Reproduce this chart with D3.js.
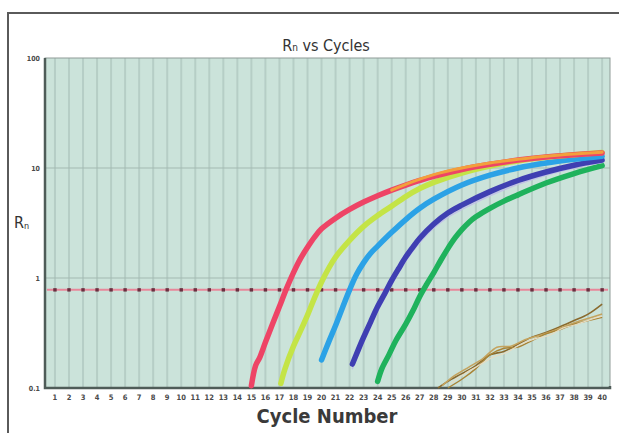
<!DOCTYPE html>
<html>
<head>
<meta charset="utf-8">
<script src="https://cdn.jsdelivr.net/npm/d3@7"></script>
<style>
  html, body { margin: 0; padding: 0; background: #ffffff; }
  svg { display: block; }
  text { font-family: "Liberation Sans Narrow", "DejaVu Sans Condensed", "Liberation Sans", sans-serif; }
</style>
</head>
<body>
<svg id="chart" width="619" height="433"></svg>
<script>
// Amplification plot: normalized reporter (Rn) against PCR cycle, log scale.
const cycleTicks = d3.range(1, 41);
const yTicks = [0.1, 1, 10, 100];
const yTickLabels = ["0.1", "1", "10", "100"];
const threshold = 0.78;

const redCycles = [15.0, 15.3, 15.6, 16, 16.5, 17, 17.5, 18, 18.5, 19, 19.5, 20, 21, 22, 23, 24, 25, 26, 27, 28, 30, 32, 34, 36, 38, 40];
const redValues = [0.105, 0.16, 0.19, 0.26, 0.38, 0.55, 0.8, 1.12, 1.5, 1.9, 2.35, 2.8, 3.5, 4.2, 4.9, 5.6, 6.3, 7.0, 7.7, 8.4, 9.7, 10.8, 11.8, 12.6, 13.2, 13.7];

const orangeCycles = [25, 26, 28, 30, 32, 34, 36, 38, 40];
const orangeValues = [6.3, 7.1, 8.7, 10.0, 11.1, 12.0, 12.8, 13.4, 13.9];

const yellowCycles = [17.1, 17.4, 18, 18.5, 19, 19.5, 20, 20.5, 21, 22, 23, 24, 25, 26, 27, 28, 30, 32, 34, 36, 38, 40];
const yellowValues = [0.11, 0.15, 0.24, 0.33, 0.46, 0.66, 0.92, 1.22, 1.55, 2.2, 2.95, 3.7, 4.5, 5.5, 6.5, 7.4, 9.0, 10.4, 11.6, 12.5, 13.2, 13.8];

const cyanCycles = [20.0, 20.5, 21, 21.5, 22, 22.5, 23, 23.5, 24, 25, 26, 27, 28, 30, 32, 34, 36, 38, 40];
const cyanValues = [0.18, 0.26, 0.37, 0.54, 0.78, 1.08, 1.38, 1.68, 1.95, 2.6, 3.4, 4.3, 5.2, 7.0, 8.6, 10.0, 11.1, 12.0, 12.8];

const navyCycles = [22.2, 22.6, 23, 23.5, 24, 24.5, 25, 25.5, 26, 26.5, 27, 28, 29, 30, 32, 34, 36, 38, 40];
const navyValues = [0.165, 0.22, 0.29, 0.4, 0.55, 0.72, 0.95, 1.22, 1.55, 1.9, 2.3, 3.1, 3.9, 4.6, 6.1, 7.7, 9.2, 10.6, 11.8];
const navyRepValues = [0.15, 0.2, 0.26, 0.36, 0.5, 0.66, 0.87, 1.12, 1.42, 1.75, 2.1, 2.85, 3.55, 4.2, 5.6, 7.1, 8.6, 10.0, 11.2];

const greenCycles = [24.0, 24.3, 24.8, 25.3, 26, 26.5, 27, 27.5, 28, 28.5, 29, 29.5, 30, 30.5, 31, 32, 33, 34, 36, 38, 40];
const greenValues = [0.115, 0.15, 0.2, 0.27, 0.38, 0.5, 0.68, 0.88, 1.12, 1.45, 1.85, 2.3, 2.75, 3.2, 3.6, 4.3, 5.0, 5.7, 7.3, 8.9, 10.5];

// no-template controls drifting near baseline
const ntcCyclesA = [28.3, 29, 30, 31, 32, 33, 34, 35, 36, 37, 38, 39, 40];
const ntcValuesA = [0.10, 0.115, 0.135, 0.16, 0.2, 0.215, 0.25, 0.29, 0.32, 0.36, 0.41, 0.47, 0.58];
const ntcCyclesB = [28.6, 29.5, 30.5, 31.5, 32.5, 33.5, 34.5, 35.5, 36.5, 37.5, 38.5, 39.5, 40];
const ntcValuesB = [0.105, 0.13, 0.155, 0.185, 0.235, 0.24, 0.275, 0.3, 0.33, 0.37, 0.41, 0.45, 0.47];
const ntcCyclesC = [29, 30, 31, 32, 33, 34, 35, 36, 37, 38, 39, 40];
const ntcValuesC = [0.10, 0.12, 0.15, 0.2, 0.23, 0.235, 0.27, 0.31, 0.34, 0.38, 0.41, 0.44];
const ntcCyclesD = [29.2, 30.2, 31.2, 32.2, 33.2, 34.2, 35.2, 36.2, 37.2, 38.2, 39.2, 40];
const ntcValuesD = [0.11, 0.135, 0.16, 0.19, 0.21, 0.25, 0.28, 0.30, 0.35, 0.38, 0.42, 0.45];

const svg = d3.select("#chart");

// outer frame
svg.append("rect").attr("x", 8).attr("y", 13).attr("width", 660).attr("height", 460)
  .attr("fill", "#ffffff").attr("stroke", "#5a5a5a").attr("stroke-width", 2);

const plot = { left: 45, right: 610, top: 58, bottom: 388 };

const x = d3.scaleLinear().domain([0.29, 40.56]).range([plot.left, plot.right]);
const y = d3.scaleLog().domain([0.1, 100]).range([plot.bottom, plot.top]);

// plot background
svg.append("rect").attr("x", plot.left).attr("y", plot.top)
  .attr("width", plot.right - plot.left).attr("height", plot.bottom - plot.top)
  .attr("fill", "#cbe3da");

// vertical grid at every cycle
svg.append("g").selectAll("line").data(cycleTicks).join("line")
  .attr("x1", d => x(d)).attr("x2", d => x(d))
  .attr("y1", plot.top).attr("y2", plot.bottom)
  .attr("stroke", "#b6cec6").attr("stroke-width", 2);

// horizontal grid at decades
svg.append("g").selectAll("line").data([1, 10]).join("line")
  .attr("x1", plot.left).attr("x2", plot.right)
  .attr("y1", d => y(d)).attr("y2", d => y(d))
  .attr("stroke", "#a3b9b1").attr("stroke-width", 1);

// plot border
svg.append("rect").attr("x", plot.left).attr("y", plot.top)
  .attr("width", plot.right - plot.left).attr("height", plot.bottom - plot.top)
  .attr("fill", "none").attr("stroke", "#8f9c98").attr("stroke-width", 1);
svg.append("path")
  .attr("d", `M${plot.left},${plot.top}V${plot.bottom}H${plot.right}V${plot.bottom - 2}`)
  .attr("fill", "none").attr("stroke", "#4f5c58").attr("stroke-width", 2.5);

// threshold line with cycle markers
svg.append("line")
  .attr("x1", plot.left + 2).attr("x2", plot.right - 2)
  .attr("y1", y(threshold)).attr("y2", y(threshold))
  .attr("stroke", "#e8879a").attr("stroke-width", 2);
svg.append("g").selectAll("rect").data(cycleTicks).join("rect")
  .attr("x", d => x(d) - 1.7).attr("y", y(threshold) - 1.7)
  .attr("width", 3.4).attr("height", 3.4)
  .attr("fill", "#6a3040");

const line = d3.line().x(d => x(d[0])).y(d => y(d[1])).curve(d3.curveCatmullRom.alpha(0.5));
const zip = (cs, vs) => cs.map((c, i) => [c, vs[i]]);

const g = svg.append("g");

// baseline drift of negative controls
const ntc = [
  [ntcCyclesA, ntcValuesA, "#8a6a2e", 1.6],
  [ntcCyclesB, ntcValuesB, "#c4a35e", 1.6],
  [ntcCyclesC, ntcValuesC, "#a98436", 1.4],
  [ntcCyclesD, ntcValuesD, "#e6dcc2", 1.2]
];
ntc.forEach(([cs, vs, col, w]) => {
  g.append("path").attr("d", line(zip(cs, vs)))
    .attr("fill", "none").attr("stroke", col).attr("stroke-width", w);
});

// amplification curves
const curves = [
  [greenCycles, greenValues, "#1fb25c", 5.5],
  [navyCycles, navyRepValues, "#c2c2e6", 1.5],
  [navyCycles, navyValues, "#3f3fb2", 5.5],
  [cyanCycles, cyanValues, "#2ba2e6", 5.5],
  [yellowCycles, yellowValues, "#c4e446", 5.5],
  [redCycles, redValues, "#ee4466", 5.5],
  [orangeCycles, orangeValues, "#f2a03c", 3]
];
curves.forEach(([cs, vs, col, w]) => {
  g.append("path").attr("d", line(zip(cs, vs)))
    .attr("fill", "none").attr("stroke", col).attr("stroke-width", w)
    .attr("stroke-linecap", "round");
});

// tick labels
svg.append("g").selectAll("text").data(cycleTicks).join("text")
  .attr("x", d => x(d)).attr("y", 400)
  .attr("text-anchor", "middle").attr("font-size", 7.5).attr("font-weight", "bold")
  .attr("fill", "#4a4a4a").text(d => d);
svg.append("g").selectAll("text").data(yTicks).join("text")
  .attr("x", 40).attr("y", d => y(d) + 3)
  .attr("text-anchor", "end").attr("font-size", 7).attr("font-weight", "bold")
  .attr("fill", "#4a4a4a").text((d, i) => yTickLabels[i]);

// title
const title = svg.append("text").attr("x", 326).attr("y", 51)
  .attr("text-anchor", "middle").attr("font-size", 16).attr("fill", "#333");
title.append("tspan").text("R");
title.append("tspan").attr("font-size", 10).text("n");
title.append("tspan").text(" vs Cycles");

// y-axis label
const yl = svg.append("text").attr("x", 14).attr("y", 228)
  .attr("font-size", 16).attr("fill", "#333");
yl.append("tspan").text("R");
yl.append("tspan").attr("font-size", 9).attr("dy", 1).text("n");

// x-axis label
svg.append("text").attr("x", 327).attr("y", 423)
  .attr("text-anchor", "middle").attr("font-size", 20).attr("font-weight", "bold")
  .attr("fill", "#3a3a3a").text("Cycle Number");
</script>
</body>
</html>
